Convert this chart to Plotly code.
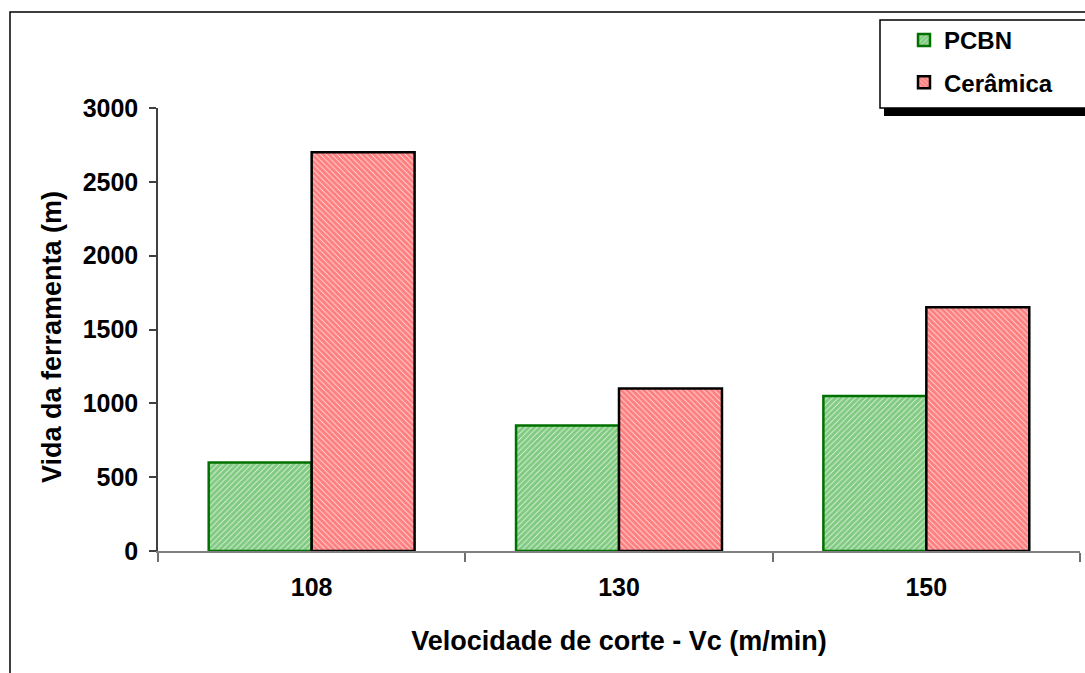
import plotly.graph_objects as go

# Cutting speed categories and tool life for each insert material
velocidades = ["108", "130", "150"]
vida_pcbn = [600, 850, 1050]
vida_ceramica = [2700, 1100, 1650]

W, H = 1085, 673
L, R, T, B = 158, 5, 108, 122
PW, PH = W - L - R, H - T - B


def fx(px):
    return (px - L) / PW


def fy(py):
    return (H - B - py) / PH


FONT = "Liberation Sans"

fig = go.Figure()
fig.add_trace(go.Bar(
    x=velocidades, y=vida_pcbn, name="PCBN", legendgroup="pcbn",
    marker=dict(color="white",
                line=dict(color="#007000", width=2.5),
                pattern=dict(shape="/", fgcolor="#049604", bgcolor="white",
                             size=4, solidity=0.85)),
))
fig.add_trace(go.Bar(
    x=velocidades, y=vida_ceramica, name="Cerâmica", legendgroup="ceramica",
    marker=dict(color="white",
                line=dict(color="black", width=2.5),
                pattern=dict(shape="\\", fgcolor="#ff0000", bgcolor="white",
                             size=4, solidity=0.85)),
))

fig.update_layout(
    width=W, height=H,
    margin=dict(l=L, r=R, t=T, b=B, autoexpand=False),
    paper_bgcolor="white", plot_bgcolor="white",
    barmode="group", bargap=0.33, bargroupgap=0,
    font=dict(family=FONT, color="black"),
    showlegend=True,
    legend=dict(x=fx(904), y=fy(18), xanchor="left", yanchor="top",
                bgcolor="rgba(0,0,0,0)", borderwidth=0,
                traceorder="grouped", tracegroupgap=8,
                font=dict(family=FONT, size=24, color="black", weight="bold")),
    xaxis=dict(
        type="category", tickson="boundaries", ticks="outside", ticklen=9,
        tickcolor="#707070", tickwidth=1.5,
        showline=True, linecolor="#808080", linewidth=2,
        showgrid=False, zeroline=False,
        tickfont=dict(family=FONT, size=25, weight="bold"),
        ticklabelstandoff=13,
        title=dict(text="Velocidade de corte - Vc (m/min)", standoff=31,
                   font=dict(family=FONT, size=27, weight="bold")),
        automargin=False,
    ),
    yaxis=dict(
        range=[0, 3000], dtick=500, ticks="outside", ticklen=7,
        tickcolor="#404040", tickwidth=1.5,
        showline=True, linecolor="#404040", linewidth=1.5,
        showgrid=False, zeroline=False,
        tickfont=dict(family=FONT, size=25, weight="bold"),
        ticklabelstandoff=6,
        automargin=False,
    ),
    annotations=[
        dict(text="Vida da ferramenta (m)", textangle=-90,
             xref="paper", yref="paper", x=fx(52), y=fy(337),
             xanchor="center", yanchor="middle", showarrow=False,
             font=dict(family=FONT, size=27, weight="bold", color="black")),
    ],
    shapes=[
        # outer chart border
        dict(type="rect", xref="paper", yref="paper",
             x0=fx(10), x1=fx(1100), y0=fy(12), y1=fy(690),
             line=dict(color="black", width=1.5), fillcolor="rgba(0,0,0,0)"),
        # legend shadow
        dict(type="rect", xref="paper", yref="paper",
             x0=fx(884), x1=fx(1100), y0=fy(108), y1=fy(116),
             line=dict(width=0), fillcolor="black"),
        # legend box
        dict(type="rect", xref="paper", yref="paper",
             x0=fx(880), x1=fx(1100), y0=fy(20), y1=fy(108),
             line=dict(color="black", width=1.5), fillcolor="white"),
    ],
)

fig.write_html("out.html")
